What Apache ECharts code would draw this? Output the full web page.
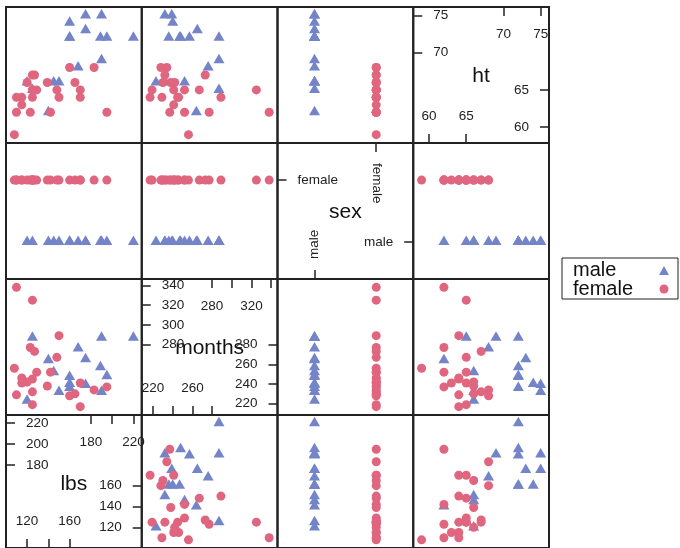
<!DOCTYPE html>
<html>
<head>
<meta charset="utf-8">
<script src="https://cdn.jsdelivr.net/npm/echarts@6/dist/echarts.min.js"></script>
<style>html,body{margin:0;padding:0;background:#fff}#c{width:680px;height:548px}</style>
</head>
<body>
<div id="c"></div>
<script>
// ---- data (one entry per person) ----
const lbs    = [125,190,220,168,140,175,145,189,195,160,160,160,175,190,150,120,
                110,125,150,123,127,148,108,142,129,125,115,115,120,170,139,195,183,125,165,160,110,170,125];
const months = [287,287,287,276,264,265,252,257,248,247,236,240,239,232,232,223,
                338,325,289,277,273,267,256,252,252,245,246,241,242,241,238,237,234,232,230,228,229,217,219];
const ht     = [65,69,72,68,62,73,66,72,72,72,72,74,75,75,66,66,
                62,65,64,62,67,65,59,62,65,64,64,63,66,65,66,62,68,67,66,68,64,64,65];
const sex    = ['male','male','male','male','male','male','male','male','male','male','male','male','male','male','male','male',
                'female','female','female','female','female','female','female','female','female','female','female','female',
                'female','female','female','female','female','female','female','female','female','female','female'];
const sexLevels = ['male','female'];
const varNames = ['lbs','months','sex','ht'];

// ---- diagonal tick values / labels ----
const lbsTicksLow = [120,140,160],       lbsLabelsLow = [120,160];
const lbsTicksHigh = [180,200,220],      lbsLabelsHigh = [180,220];
const monthsTicksLow = [220,240,260,280], monthsLabelsLow = [220,260];
const monthsTicksHigh = [280,300,320,340], monthsLabelsHigh = [280,320];
const sexTicksLow = [1], sexTicksHigh = [2];
const htTicksLow = [60,65], htTicksHigh = [70,75];

const vals = {
  lbs: lbs, months: months, ht: ht,
  sex: sex.map(s => sexLevels.indexOf(s) + 1)
};
const diag = {
  lbs:    {bt: lbsTicksLow, bl: lbsLabelsLow, tt: lbsTicksHigh, tl: lbsLabelsHigh, lt: lbsTicksHigh, rt: lbsTicksLow},
  months: {bt: monthsTicksLow, bl: monthsLabelsLow, tt: monthsTicksHigh, tl: monthsLabelsHigh, lt: monthsTicksHigh, rt: monthsTicksLow},
  sex:    {bt: sexTicksLow, bl: sexTicksLow, tt: sexTicksHigh, tl: sexTicksHigh, lt: sexTicksHigh, rt: sexTicksLow},
  ht:     {bt: htTicksLow, bl: htTicksLow, tt: htTicksHigh, tl: htTicksHigh, lt: htTicksHigh, rt: htTicksLow}
};

function lim(v) {
  if (v === 'sex') return [0.4, sexLevels.length + 0.6];
  const a = vals[v];
  const mn = Math.min(...a), mx = Math.max(...a), r = mx - mn;
  return [mn - 0.07 * r, mx + 0.07 * r];
}
function fmt(v) {
  return function (x) { return v === 'sex' ? sexLevels[Math.round(x) - 1] : String(x); };
}

const FONT = 'Liberation Sans, Arial, Helvetica, sans-serif';
const INK = '#222';
const colLeft = [6, 141.75, 277.5, 413.25], cellW = 135.75;
const rowTop = [7, 143, 279, 415], cellH = 136;
const COL = {male: '#7484C8', female: '#E0657F'};

const grids = [], xAxes = [], yAxes = [], series = [], graphics = [];
const extraX = [], extraY = [];

function tickAx(base, ticks, labels, v, rotate) {
  return Object.assign(base, {
    show: true,
    axisLine: {show: false},
    splitLine: {show: false},
    axisTick: {show: true, inside: true, length: 9, customValues: ticks, lineStyle: {color: INK, width: 1.5}},
    axisLabel: {show: true, inside: true, margin: 20, customValues: labels, formatter: fmt(v),
                rotate: rotate || 0, fontSize: 13.5, color: INK, fontFamily: FONT}
  });
}

for (let r = 0; r < 4; r++) {
  for (let c = 0; c < 4; c++) {
    const g = r * 4 + c;
    const xv = varNames[c], yv = varNames[3 - r];
    grids.push({left: colLeft[c], top: rowTop[r], width: cellW, height: cellH,
                show: true, borderColor: INK, borderWidth: 2, backgroundColor: 'transparent'});
    const xl = lim(xv), yl = lim(yv);
    if (c === 3 - r) {
      const d = diag[xv];
      const rot = xv === 'sex' ? 90 : 0;
      xAxes.push(tickAx({gridIndex: g, type: 'value', position: 'bottom', min: xl[0], max: xl[1]}, d.bt, d.bl, xv, rot));
      yAxes.push(tickAx({gridIndex: g, type: 'value', position: 'left', min: yl[0], max: yl[1]}, d.lt, d.lt, yv));
      extraX.push(tickAx({gridIndex: g, type: 'value', position: 'top', min: xl[0], max: xl[1]}, d.tt, d.tl, xv, rot));
      extraY.push(tickAx({gridIndex: g, type: 'value', position: 'right', min: yl[0], max: yl[1]}, d.rt, d.rt, yv));
      graphics.push({type: 'text', x: colLeft[c] + cellW / 2, y: rowTop[r] + cellH / 2 + 1.5,
        style: {text: xv, fontSize: 21, fill: '#111', fontFamily: FONT, align: 'center', verticalAlign: 'middle'}, silent: true});
    } else {
      xAxes.push({gridIndex: g, type: 'value', min: xl[0], max: xl[1], show: false});
      yAxes.push({gridIndex: g, type: 'value', min: yl[0], max: yl[1], show: false});
      sexLevels.forEach(function (grp) {
        const pts = [];
        for (let i = 0; i < sex.length; i++) if (sex[i] === grp) pts.push([vals[xv][i], vals[yv][i]]);
        series.push({
          type: 'scatter', name: grp, xAxisIndex: g, yAxisIndex: g, data: pts,
          symbol: grp === 'male' ? 'triangle' : 'circle',
          symbolSize: grp === 'male' ? [11, 9.5] : 9,
          symbolOffset: grp === 'male' ? [0, -1.7] : [0, 0],
          itemStyle: {color: COL[grp], opacity: 1},
          silent: true, animation: false
        });
      });
    }
  }
}

const chart = echarts.init(document.getElementById('c'), null, {renderer: 'canvas'});
chart.setOption({
  backgroundColor: '#fff',
  animation: false,
  grid: grids,
  xAxis: xAxes.concat(extraX),
  yAxis: yAxes.concat(extraY),
  series: series,
  graphic: graphics,
  legend: {
    orient: 'vertical', left: 562, top: 258, align: 'right',
    itemWidth: 10, itemHeight: 9, itemGap: -1.4, itemTextGap: 5,
    padding: [2.4, 9, 0, 11],
    borderColor: INK, borderWidth: 1,
    selectedMode: false,
    data: [{name: 'male', icon: 'triangle'}, {name: 'female', icon: 'circle'}],
    formatter: '{t|{name}}',
    textStyle: {fontSize: 20, color: '#111', fontFamily: FONT, lineHeight: 20,
                rich: {t: {width: 81, align: 'left', fontSize: 20, lineHeight: 20, fontFamily: FONT, color: '#111'}}}
  }
});
</script>
</body>
</html>
